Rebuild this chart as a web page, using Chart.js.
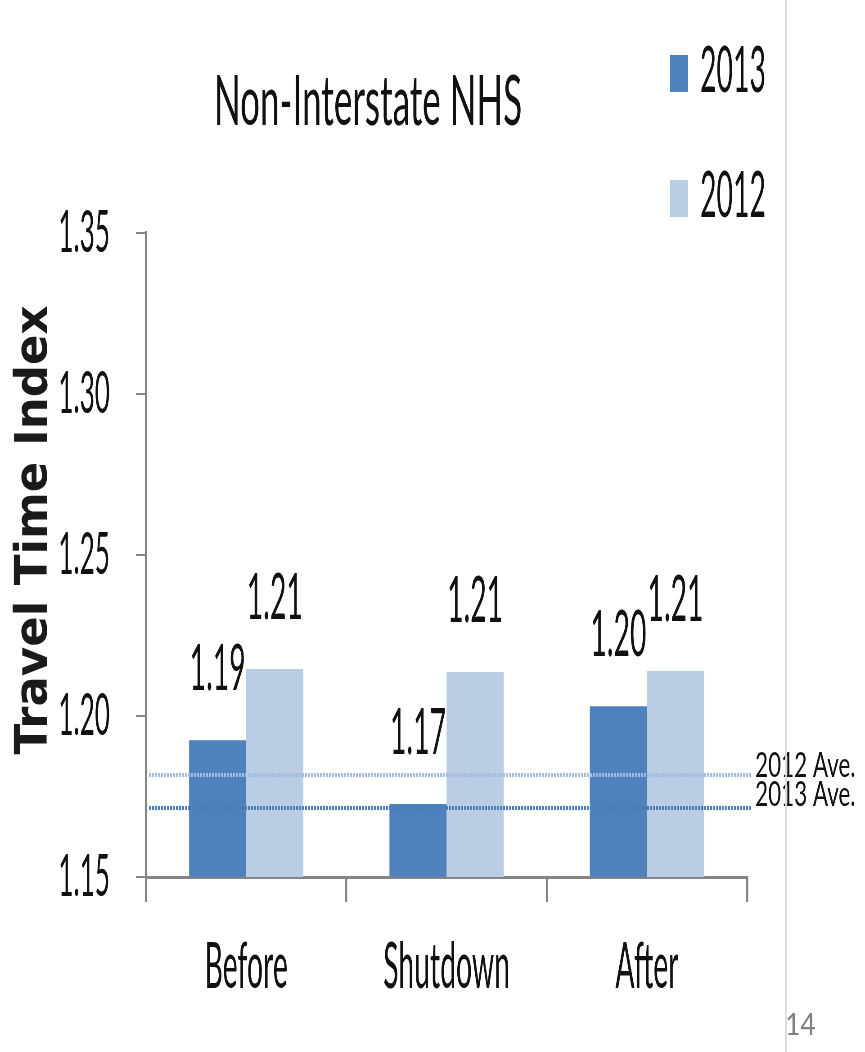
<!DOCTYPE html>
<html>
<head>
<meta charset="utf-8">
<script src="https://cdn.jsdelivr.net/npm/chart.js@4.4.1/dist/chart.umd.min.js"></script>
<style>
  html, body { margin: 0; padding: 0; background: #fff; overflow: hidden; }
  #chart { display: block; }
</style>
</head>
<body>
<canvas id="chart"></canvas>
<script>
// ── data ──
const categories    = ['Before', 'Shutdown', 'After'];
const seriesNames   = ['2013', '2012'];
const values2013    = [1.1925, 1.1727, 1.2030];
const values2012    = [1.2146, 1.2137, 1.2140];
const averageNames  = ['2012 Ave.', '2013 Ave.'];
const averageValues = [1.1817, 1.1714];
const yTicks        = [1.15, 1.20, 1.25, 1.30, 1.35];

// the slide picture is squeezed sideways, so the canvas is drawn wide and shrunk by CSS
const SX = 0.45;
const W = Math.round(865 / SX), H = 1052;
const px = x => x / SX;
const FONT = 'Lato, "Open Sans", sans-serif';
const C13 = '#4f81bd', C12 = '#b9cde5';
const AXIS = '#858585';

function text(ctx, s, x, y, o) {
    ctx.save();
    ctx.translate(x, y);
    ctx.scale((o.squeeze ?? SX) / SX, 1);
    ctx.font = `${o.weight || 400} ${o.size}px ${o.family || FONT}`;
    ctx.fillStyle = o.color || '#111';
    ctx.textAlign = o.align || 'left';
    ctx.textBaseline = 'alphabetic';
    ctx.fillText(s, 0, 0);
    ctx.restore();
}

const decor = {
    id: 'decor',
    beforeDraw(chart) {
        const { ctx } = chart;
        ctx.save();
        ctx.fillStyle = '#fff';
        ctx.fillRect(0, 0, chart.width, chart.height);
        ctx.restore();
    },
    afterDatasetsDraw(chart) {
        const { ctx, chartArea: a, scales: { y } } = chart;

        // dotted yearly averages
        const lineColors = ['#a3bde0', '#4a7ebb'];
        const labelDy = [2, -2];
        averageValues.forEach((v, i) => {
            const yy = y.getPixelForValue(v);
            ctx.save();
            ctx.strokeStyle = lineColors[i];
            ctx.lineWidth = 4;
            ctx.setLineDash([px(2), px(1)]);
            ctx.beginPath();
            ctx.moveTo(a.left + px(3), yy);
            ctx.lineTo(a.right + px(5), yy);
            ctx.stroke();
            ctx.restore();
            text(ctx, averageNames[i], a.right + px(8), yy + labelDy[i], { size: 34, squeeze: 0.66 });
        });

        // value labels over the bars
        chart.data.datasets.forEach((ds, di) => {
            chart.getDatasetMeta(di).data.forEach((bar, i) => {
                text(ctx, ds.data[i].toFixed(2), bar.x, bar.y - 50, { size: 63, align: 'center' });
            });
        });
    },
    afterDraw(chart) {
        const { ctx } = chart;

        text(ctx, 'Non-Interstate NHS', px(368), 125, { size: 70, align: 'center', squeeze: 0.5 });

        // rotated axis title, kept at normal proportions
        ctx.save();
        ctx.translate(px(47), 530);
        ctx.scale(1 / SX, 1);
        ctx.rotate(-Math.PI / 2);
        ctx.font = 'bold 45px "DejaVu Sans"';
        ctx.textAlign = 'center';
        ctx.fillStyle = '#1a1a1a';
        ctx.fillText('Travel Time Index', 0, 0);
        ctx.restore();

        // legend
        chart.data.datasets.forEach((ds, i) => {
            const top = 55 + i * 125;
            ctx.fillStyle = ds.backgroundColor;
            ctx.fillRect(px(670), top, px(18), 37);
            text(ctx, ds.label, px(700), top + 37, { size: 63 });
        });

        // slide edge and page number
        ctx.fillStyle = '#dcdcdc';
        ctx.fillRect(px(785), 0, px(2), H);
        text(ctx, '14', px(785), 1035, { size: 31, color: '#808080', squeeze: 0.85 });
    }
};

const canvas = document.getElementById('chart');
canvas.width = W;
canvas.height = H;
canvas.style.width = '865px';
canvas.style.height = H + 'px';

new Chart(canvas, {
    type: 'bar',
    data: {
        labels: categories,
        datasets: [
            { label: seriesNames[0], data: values2013, backgroundColor: C13 },
            { label: seriesNames[1], data: values2012, backgroundColor: C12 }
        ]
    },
    options: {
        responsive: false,
        animation: false,
        devicePixelRatio: 1,
        layout: { padding: { top: 233, right: W - px(747), bottom: 0, left: 0 } },
        datasets: { bar: { barPercentage: 1, categoryPercentage: 0.57 } },
        plugins: {
            legend : { display: false },
            title  : { display: false },
            tooltip: { enabled: false }
        },
        scales: {
            x: {
                afterFit: s => { s.height = H - 877; },
                grid: {
                    drawOnChartArea: false, drawTicks: true, tickLength: 25,
                    offset: true, color: AXIS, lineWidth: px(2)
                },
                border: { display: true, color: AXIS, width: 3 },
                ticks: { color: '#111', padding: 28, font: { family: FONT, size: 63 } }
            },
            y: {
                min: 1.15, max: 1.35,
                afterFit: s => { s.width = px(146); },
                afterBuildTicks: s => { s.ticks = yTicks.map(v => ({ value: v })); },
                grid: {
                    drawOnChartArea: false, drawTicks: true, tickLength: px(10),
                    color: AXIS, lineWidth: 2
                },
                border: { display: true, color: AXIS, width: px(2) },
                ticks: {
                    color: '#111', padding: 58,
                    font: { family: FONT, size: 58 },
                    callback: v => Number(v).toFixed(2)
                }
            }
        }
    },
    plugins: [decor]
});
</script>
</body>
</html>
